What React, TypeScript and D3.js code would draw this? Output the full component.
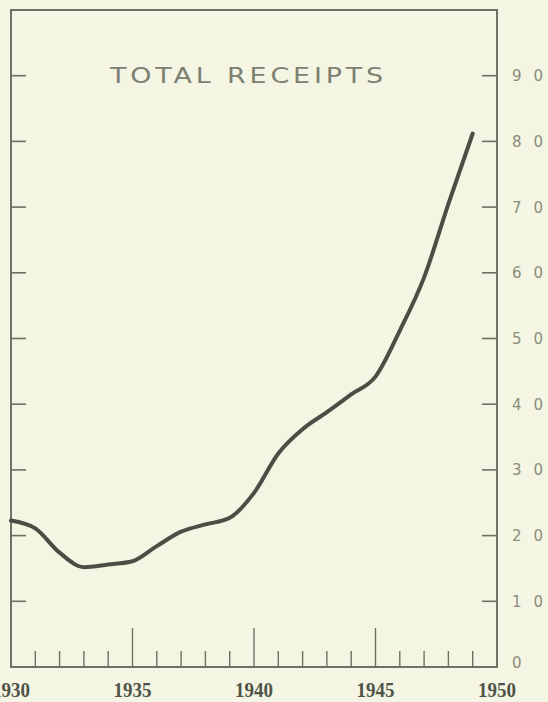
import React from "react";
import * as d3 from "d3";

const years = [1930, 1931, 1932, 1933, 1934, 1935, 1936, 1937, 1938, 1939, 1940, 1941, 1942, 1943, 1944, 1945, 1946, 1947, 1948, 1949];
const receipts = [22.3, 21.1, 17.4, 15.2, 15.6, 16.1, 18.4, 20.6, 21.7, 22.7, 26.5, 32.5, 36.2, 38.8, 41.5, 44.2, 51.2, 59.3, 70.5, 81.2];
const yearLabels = [1930, 1935, 1940, 1945, 1950];
const minorYears = [1931, 1932, 1933, 1934, 1936, 1937, 1938, 1939, 1941, 1942, 1943, 1944, 1946, 1947, 1948, 1949];
const majorYears = [1935, 1940, 1945];
const valueTicks = [0, 10, 20, 30, 40, 50, 60, 70, 80, 90];
const title = "TOTAL RECEIPTS";

const W = 548;
const H = 702;
const BG = "#f4f6e3";
const FRAME = "#6f7263";
const LINE = "#4b4e45";

export default function App() {
  const x = d3.scaleLinear().domain([1930, 1950]).range([11, 497]);
  const y = d3.scaleLinear().domain([0, 100]).range([667, 10]);
  const line = d3
    .line<number>()
    .x((_, i) => x(years[i]))
    .y((d) => y(d))
    .curve(d3.curveMonotoneX);

  const left = x(1930);
  const right = x(1950);
  const top = y(100);
  const bottom = y(0);

  return (
    <div style={{ position: "absolute", left: 0, top: 0, width: W, height: H, overflow: "hidden" }}>
      <svg width={W} height={H} style={{ display: "block", background: BG }}>
        <rect x={0} y={0} width={W} height={H} fill={BG} />
        {/* frame */}
        <rect x={left} y={top} width={right - left} height={bottom - top} fill="none" stroke={FRAME} strokeWidth={2} />
        {/* y ticks left and right */}
        {valueTicks.filter((v) => v > 0).map((v) => (
          <g key={"yt" + v}>
            <line x1={left} x2={left + 15} y1={y(v)} y2={y(v)} stroke={FRAME} strokeWidth={1.6} />
            <line x1={right - 15} x2={right} y1={y(v)} y2={y(v)} stroke={FRAME} strokeWidth={1.6} />
          </g>
        ))}
        {/* right labels */}
        {valueTicks.map((v) => (
          <text
            key={"yl" + v}
            x={512}
            y={v === 0 ? y(v) - 4 : y(v)}
            dy="0.36em"
            fontFamily="'DejaVu Sans', sans-serif"
            fontSize={15}
            fill="#8a8d7b"
            textLength={v === 0 ? undefined : 31}
            lengthAdjust="spacing"
          >
            {String(v)}
          </text>
        ))}
        {/* x ticks */}
        {minorYears.map((yr) => (
          <line key={"mx" + yr} x1={x(yr)} x2={x(yr)} y1={bottom} y2={bottom - 16} stroke={FRAME} strokeWidth={1.4} />
        ))}
        {majorYears.map((yr) => (
          <line key={"Mx" + yr} x1={x(yr)} x2={x(yr)} y1={bottom} y2={bottom - 39} stroke={FRAME} strokeWidth={1.4} />
        ))}
        {/* x labels */}
        {yearLabels.map((yr) => (
          <text
            key={"xl" + yr}
            x={x(yr) - 19}
            y={697}
            fontFamily="'Liberation Serif', serif"
            fontWeight="bold"
            fontSize={20}
            fill="#4f5348"
            textLength={38}
            lengthAdjust="spacingAndGlyphs"
          >
            {String(yr)}
          </text>
        ))}
        {/* title */}
        <text
          x={110}
          y={83}
          fontFamily="'DejaVu Sans', sans-serif"
          fontSize={21}
          letterSpacing={3}
          fill="#7d8070"
          textLength={277}
          lengthAdjust="spacingAndGlyphs"
        >
          {title}
        </text>
        {/* data line */}
        <path d={line(receipts) || ""} fill="none" stroke={LINE} strokeWidth={4} strokeLinejoin="round" strokeLinecap="round" />
      </svg>
    </div>
  );
}
